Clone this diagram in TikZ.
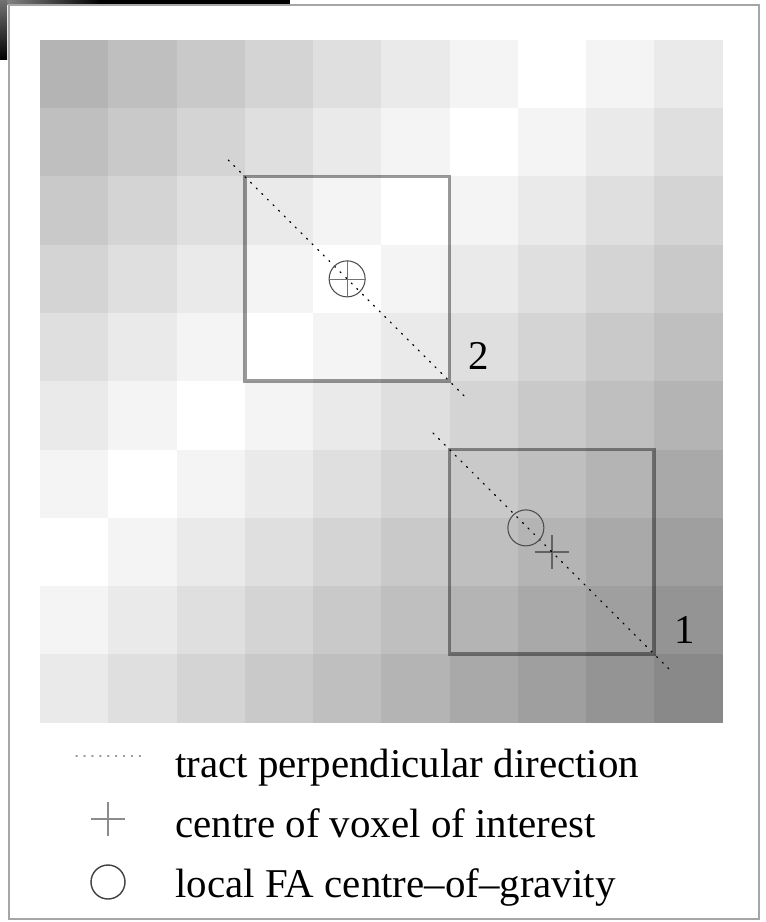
\documentclass[tikz,border=0pt]{standalone}
\usepackage{fontspec}
\setmainfont{Liberation Serif}
\usetikzlibrary{calc,positioning}

\begin{document}
\begin{tikzpicture}[
  % ── Units: one step = one pixel of the figure ──
  x=0.02cm, y=-0.02cm,
  % ── Style definitions ──
  frame/.style={draw=black!35, line width=0.05cm},
  win/.style={
    rectangle, draw=black, draw opacity=0.4,
    line width=0.075cm, minimum size=4.095cm, inner sep=0pt
  },
  tract/.style={line width=0.7pt, dash pattern=on 0.7pt off 3.8pt, line cap=round},
  cog/.style={circle, draw=black!70, line width=0.6pt, minimum size=0.72cm, inner sep=0pt},
  voxplus/.style={draw=black, draw opacity=0.45, line width=0.9pt},
  num/.style={font=\fontsize{23.3}{28}\selectfont, inner sep=0pt, anchor=base west},
  lbl/.style={font=\fontsize{23.3}{28}\selectfont, inner sep=0pt, anchor=base west}
]
\useasboundingbox (0,0) rectangle (766,922);
\fill[white] (0,0) rectangle (766,922);

% ─────────── Screen-grab edge (top left) ─────────────────────
\shade[left color=black!45, right color=black] (0,0) rectangle (100,5);
\fill[black] (100,0) rectangle (290,5);
\shade[top color=black!55, bottom color=black] (0,0) rectangle (7,60);

% ─────────── Outer frame ─────────────────────────────────────
\draw[frame] (9,5) rectangle (759,919);

% ─────────── FA map: 10 x 10 voxels ──────────────────────────
\foreach \r in {0,...,9}{
  \foreach \c in {0,...,9}{
    \pgfmathsetmacro{\graylev}{4.2*abs(\r+\c-7)}
    \fill[black!\graylev] ({40+68.25*\c},{40+68.25*\r}) rectangle ++(68.25,68.25);
  }
}

% ─────────── Search windows ──────────────────────────────────
\node[win] (box2) at ({40+68.25*4.5},{40+68.25*3.5}) {};
\node[win] (box1) at ({40+68.25*7.5},{40+68.25*7.5}) {};

% tract perpendicular direction through each window
\draw[tract] ($(box2.north west)!-0.07!(box2.south east)$)
          -- ($(box2.south east)!-0.07!(box2.north west)$);
\draw[tract] ($(box1.north west)!-0.07!(box1.south east)$)
          -- ($(box1.south east)!-0.07!(box1.north west)$);

% ─────────── Markers ─────────────────────────────────────────
% window 2: centre of gravity on the voxel centre
\node[cog] (cog2) at (box2.center) {};
\draw[black!55, line width=0.4pt] (cog2.north) -- (cog2.south)
                                  (cog2.west)  -- (cog2.east);
% window 1: centre of gravity off the voxel centre
\coordinate (vox1) at (box1.center);
\node[cog] (cog1) at ($(vox1)+(-26,-24)$) {};
\draw[voxplus] ($(vox1)+(-17,0)$) -- ($(vox1)+(17,0)$)
               ($(vox1)+(0,-17)$) -- ($(vox1)+(0,17)$);

% ─────────── Window numbers ──────────────────────────────────
\node[num] (lab2) at ($(box2.south east)+(17,-14)$) {2};
\node[num] (lab1) at ($(box1.south east)+(18,-13)$) {1};

% ─────────── Legend ──────────────────────────────────────────
\draw[tract, black!40] (76,756) -- (145,756);
\draw[black!45, line width=1pt] (91,819) -- (125,819) (108,802) -- (108,836);
\node[cog, draw=black!75, line width=0.8pt, minimum size=0.68cm] (lgcog) at (108,882) {};
\node[lbl] (txt1) at (175,777) {tract perpendicular direction};
\node[lbl] (txt2) at (175,837) {centre of voxel of interest};
\node[lbl] (txt3) at (175,897) {local FA centre--of--gravity};
\end{tikzpicture}
\end{document}
